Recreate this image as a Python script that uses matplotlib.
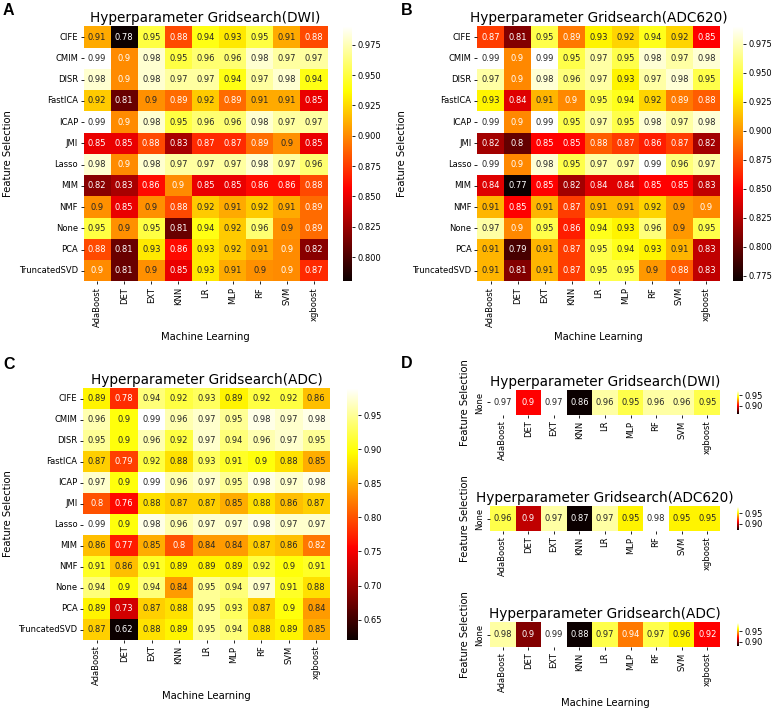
import numpy as np
import pandas as pd
import matplotlib
matplotlib.use('Agg')
import matplotlib.pyplot as plt
import seaborn as sns

features = ['CIFE', 'CMIM', 'DISR', 'FastICA', 'ICAP', 'JMI', 'Lasso',
            'MIM', 'NMF', 'None', 'PCA', 'TruncatedSVD']
models = ['AdaBoost', 'DET', 'EXT', 'KNN', 'LR', 'MLP', 'RF', 'SVM', 'xgboost']

# cells shown as "0.9" carry a third decimal estimated from cell/text colour
dwi = [
    [0.91, 0.78, 0.95, 0.88, 0.94, 0.93, 0.95, 0.91, 0.88],
    [0.99, 0.9, 0.98, 0.95, 0.96, 0.96, 0.98, 0.97, 0.97],
    [0.98, 0.9, 0.98, 0.97, 0.97, 0.94, 0.97, 0.98, 0.94],
    [0.92, 0.81, 0.902, 0.89, 0.92, 0.89, 0.91, 0.91, 0.85],
    [0.99, 0.9, 0.98, 0.95, 0.96, 0.96, 0.98, 0.97, 0.97],
    [0.85, 0.85, 0.88, 0.83, 0.87, 0.87, 0.89, 0.902, 0.85],
    [0.98, 0.9, 0.98, 0.97, 0.97, 0.97, 0.98, 0.97, 0.96],
    [0.82, 0.83, 0.86, 0.9, 0.85, 0.85, 0.86, 0.86, 0.88],
    [0.902, 0.85, 0.902, 0.88, 0.92, 0.91, 0.92, 0.91, 0.89],
    [0.95, 0.902, 0.95, 0.81, 0.94, 0.92, 0.96, 0.902, 0.89],
    [0.88, 0.81, 0.93, 0.86, 0.93, 0.92, 0.91, 0.9, 0.82],
    [0.9, 0.81, 0.902, 0.85, 0.93, 0.91, 0.902, 0.9, 0.87],
]

adc620 = [
    [0.87, 0.81, 0.95, 0.89, 0.93, 0.92, 0.94, 0.92, 0.85],
    [0.99, 0.895, 0.99, 0.95, 0.97, 0.95, 0.98, 0.97, 0.98],
    [0.97, 0.895, 0.98, 0.96, 0.97, 0.93, 0.97, 0.98, 0.95],
    [0.93, 0.84, 0.91, 0.895, 0.95, 0.94, 0.92, 0.89, 0.88],
    [0.99, 0.895, 0.99, 0.95, 0.97, 0.95, 0.98, 0.97, 0.98],
    [0.82, 0.8, 0.85, 0.85, 0.88, 0.87, 0.86, 0.87, 0.82],
    [0.99, 0.895, 0.98, 0.95, 0.97, 0.97, 0.99, 0.96, 0.97],
    [0.84, 0.77, 0.85, 0.82, 0.84, 0.84, 0.85, 0.85, 0.83],
    [0.91, 0.85, 0.91, 0.87, 0.91, 0.91, 0.92, 0.9, 0.895],
    [0.97, 0.895, 0.95, 0.86, 0.94, 0.93, 0.96, 0.9, 0.95],
    [0.91, 0.79, 0.91, 0.87, 0.95, 0.94, 0.93, 0.91, 0.83],
    [0.91, 0.81, 0.91, 0.87, 0.95, 0.95, 0.9, 0.88, 0.83],
]

adc = [
    [0.89, 0.78, 0.94, 0.92, 0.93, 0.89, 0.92, 0.92, 0.86],
    [0.96, 0.9, 0.99, 0.96, 0.97, 0.95, 0.98, 0.97, 0.98],
    [0.95, 0.9, 0.96, 0.92, 0.97, 0.94, 0.96, 0.97, 0.95],
    [0.87, 0.79, 0.92, 0.88, 0.93, 0.91, 0.9, 0.88, 0.85],
    [0.97, 0.9, 0.99, 0.96, 0.97, 0.95, 0.98, 0.97, 0.98],
    [0.8, 0.76, 0.88, 0.87, 0.87, 0.85, 0.88, 0.86, 0.87],
    [0.99, 0.9, 0.98, 0.96, 0.97, 0.97, 0.98, 0.97, 0.97],
    [0.86, 0.77, 0.85, 0.8, 0.84, 0.84, 0.87, 0.86, 0.82],
    [0.91, 0.86, 0.91, 0.89, 0.89, 0.89, 0.92, 0.9, 0.91],
    [0.94, 0.9, 0.94, 0.84, 0.95, 0.94, 0.97, 0.91, 0.88],
    [0.89, 0.73, 0.87, 0.88, 0.95, 0.93, 0.87, 0.9, 0.84],
    [0.87, 0.62, 0.88, 0.89, 0.95, 0.94, 0.88, 0.89, 0.85],
]

# panel D: no feature selection only
none_dwi = [0.97, 0.9, 0.97, 0.86, 0.96, 0.95, 0.96, 0.96, 0.95]
none_adc620 = [0.96, 0.9, 0.97, 0.87, 0.97, 0.95, 0.98, 0.95, 0.95]
none_adc = [0.98, 0.9, 0.99, 0.88, 0.97, 0.94, 0.97, 0.96, 0.92]

W, H = 777, 712
fig = plt.figure(figsize=(W / 100, H / 100), dpi=100)


def box(x0, y0, x1, y1):
    # pixel box (top-left origin) -> figure fraction
    return [x0 / W, 1 - y1 / H, (x1 - x0) / W, (y1 - y0) / H]


def draw(data, rows, title, hbox, cbox, xlabel=True, small=False):
    ax = fig.add_axes(box(*hbox))
    cax = fig.add_axes(box(*cbox))
    df = pd.DataFrame(data, index=rows, columns=models)
    sns.heatmap(df, ax=ax, cbar_ax=cax, cmap='hot', annot=True,
                annot_kws={'size': 6})
    ax.set_title(title, fontsize=9.8, pad=3)
    ax.set_xticklabels(models, rotation=90, fontsize=6)
    ax.set_yticklabels(rows, rotation=90 if small else 0, fontsize=6, va='center')
    ax.tick_params(length=2.5, width=0.6, pad=1.5)
    ax.set_ylabel('Feature Selection', fontsize=7.2)
    if xlabel:
        ax.set_xlabel('Machine Learning', fontsize=7.2)
    else:
        ax.set_xlabel('')
    cax.tick_params(labelsize=6, length=2.5, width=0.6, pad=1.5)
    if small:
        cax.set_yticks([0.90, 0.95])
        cax.set_yticklabels(['0.90', '0.95'])
    return ax


draw(dwi, features, 'Hyperparameter Gridsearch(DWI)',
     (83.5, 26.5, 327.5, 281.5), (343, 26.5, 352, 281.5))
draw(adc620, features, 'Hyperparameter Gridsearch(ADC620)',
     (477, 26.5, 720, 281.5), (733, 26.5, 743, 281.5))
draw(adc, features, 'Hyperparameter Gridsearch(ADC)',
     (83, 388, 330, 640), (347, 388, 358, 640))

draw([none_dwi], ['None'], 'Hyperparameter Gridsearch(DWI)',
     (490, 390, 720, 415), (737, 391, 739, 414), xlabel=False, small=True)
draw([none_adc620], ['None'], 'Hyperparameter Gridsearch(ADC620)',
     (490, 506, 720, 531), (737, 507, 739, 530), xlabel=False, small=True)
draw([none_adc], ['None'], 'Hyperparameter Gridsearch(ADC)',
     (490, 622, 720, 647), (737, 623, 739, 646), xlabel=True, small=True)

for letter, x, y in [('A', 3, 3), ('B', 401, 3), ('C', 3, 357), ('D', 401, 356)]:
    fig.text(x / W, 1 - y / H, letter, fontsize=11.5, fontweight='bold',
             family='Liberation Sans', va='top', ha='left')

plt.savefig('out.png', dpi=100)
